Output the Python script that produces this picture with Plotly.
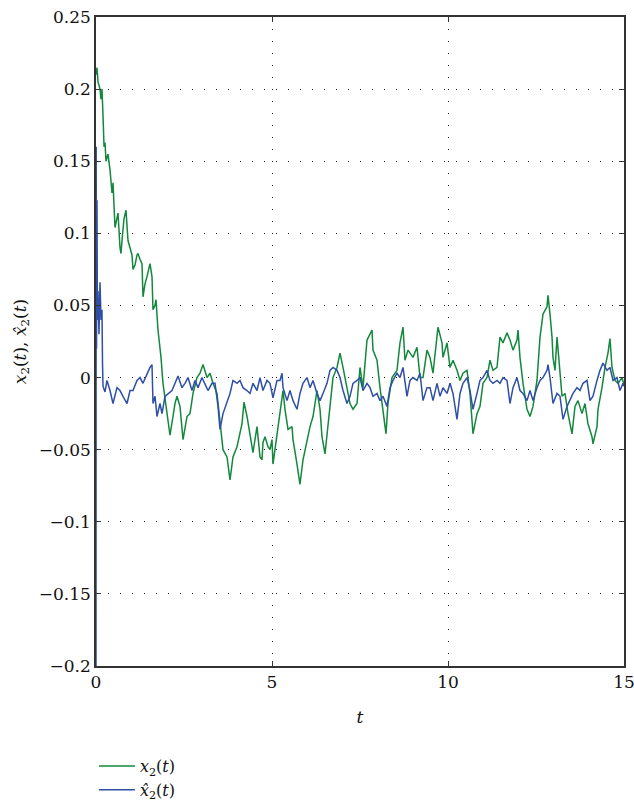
import plotly.graph_objects as go

# ---- data ----
t_green = [0, 0.028, 0.057, 0.114, 0.142, 0.170, 0.199, 0.228, 0.256, 0.284, 0.341, 0.398, 0.455, 0.483,
           0.540, 0.597, 0.625, 0.682, 0.710, 0.739, 0.795, 0.852, 0.909, 0.966, 1.023, 1.051, 1.108, 1.165,
           1.193, 1.25, 1.307, 1.335, 1.392, 1.449, 1.534, 1.591, 1.619, 1.676, 1.705, 1.761, 1.847, 1.903,
           1.932, 2.017, 2.102, 2.1875, 2.244, 2.301, 2.386, 2.472, 2.528, 2.585, 2.670, 2.756, 2.869, 2.955,
           3.040, 3.153, 3.239, 3.324, 3.4375, 3.523, 3.580, 3.608, 3.722, 3.807, 3.892, 4.006, 4.148, 4.205,
           4.290, 4.375, 4.460, 4.574, 4.659, 4.716, 4.744, 4.801, 4.886, 4.943, 5.0, 5.028, 5.142, 5.227,
           5.3125, 5.369, 5.455, 5.568, 5.597, 5.710, 5.795, 5.881, 5.994, 6.080, 6.165, 6.278, 6.364, 6.420,
           6.506, 6.5625, 6.648, 6.733, 6.847, 6.932, 7.017, 7.131, 7.216, 7.301, 7.415, 7.5, 7.585, 7.699,
           7.841, 7.869, 7.983, 8.068, 8.153, 8.239, 8.295, 8.409, 8.551, 8.636, 8.722, 8.778, 8.864, 9.006,
           9.119, 9.205, 9.290, 9.403, 9.489, 9.574, 9.716, 9.830, 9.858, 9.972, 10.057, 10.142, 10.256,
           10.341, 10.426, 10.540, 10.625, 10.710, 10.824, 10.909, 10.994, 11.108, 11.193, 11.278, 11.392,
           11.477, 11.562, 11.676, 11.761, 11.847, 11.960, 11.989, 12.045, 12.131, 12.244, 12.330, 12.415,
           12.528, 12.614, 12.699, 12.812, 12.841, 12.898, 12.955, 12.983, 13.040, 13.097, 13.182, 13.239,
           13.324, 13.409, 13.523, 13.608, 13.693, 13.807, 13.892, 13.977, 14.091, 14.119, 14.233, 14.261,
           14.375, 14.460, 14.545, 14.602, 14.659, 14.744, 14.830, 14.943, 15.0]
x2 = [0.21, 0.215, 0.205, 0.2, 0.193, 0.2, 0.182, 0.16, 0.163, 0.15, 0.155, 0.144, 0.128, 0.135,
      0.104, 0.112, 0.114, 0.09, 0.086, 0.095, 0.11, 0.116, 0.095, 0.09, 0.085, 0.075, 0.078, 0.085,
      0.086, 0.082, 0.079, 0.056, 0.065, 0.07, 0.079, 0.07, 0.047, 0.05, 0.054, 0.033, 0.014, -0.004,
      -0.009, -0.027, -0.04, -0.027, -0.018, -0.013, -0.02, -0.043, -0.035, -0.027, -0.025, -0.011, 0.0, 0.003,
      0.009, 0.0, 0.003, -0.004, -0.011, -0.032, -0.048, -0.05, -0.055, -0.071, -0.055, -0.048, -0.032, -0.017,
      -0.027, -0.04, -0.052, -0.034, -0.055, -0.057, -0.045, -0.041, -0.048, -0.05, -0.043, -0.06, -0.039, -0.027,
      -0.009, -0.022, -0.036, -0.034, -0.043, -0.06, -0.074, -0.057, -0.043, -0.034, -0.027, -0.009, -0.022, -0.041,
      -0.053, -0.039, -0.016, 0.0, 0.007, 0.017, 0.007, -0.009, -0.018, -0.022, -0.018, 0.007, -0.007, 0.026,
      0.033, 0.019, 0.012, -0.007, -0.025, -0.039, -0.018, 0.0, 0.005, 0.024, 0.035, 0.012, 0.019, 0.014,
      0.021, 0.0, 0.0, 0.019, 0.014, 0.003, 0.035, 0.024, 0.014, 0.024, 0.007, 0.012, 0.005,
      -0.002, 0.003, 0.005, -0.011, -0.039, -0.025, -0.02, -0.004, 0.0, 0.012, 0.005, 0.007,
      0.028, 0.024, 0.031, 0.026, 0.019, 0.026, 0.033, 0.014, -0.004, -0.022, -0.027, -0.02,
      -0.002, 0.028, 0.044, 0.049, 0.057, 0.044, 0.028, 0.014, 0.005, 0.028, 0.005, -0.013,
      -0.011, -0.025, -0.039, -0.02, -0.016, -0.025, -0.018, -0.032, -0.041, -0.046, -0.034, -0.022,
      -0.007, 0.007, 0.017, 0.027, 0.007, -0.002, -0.004, 0.0, -0.005]

t_blue = [0, 0.005, 0.015, 0.028, 0.04, 0.057, 0.085, 0.114, 0.142, 0.170, 0.185, 0.199, 0.256, 0.3125,
          0.398, 0.483, 0.597, 0.682, 0.767, 0.881, 0.966, 1.051, 1.165, 1.25, 1.335, 1.449, 1.534, 1.591,
          1.619, 1.676, 1.733, 1.818, 1.875, 1.960, 2.045, 2.159, 2.244, 2.330, 2.443, 2.528, 2.614, 2.727,
          2.8125, 2.898, 3.011, 3.097, 3.182, 3.295, 3.381, 3.466, 3.523, 3.608, 3.722, 3.807, 3.892, 4.006,
          4.091, 4.176, 4.290, 4.375, 4.460, 4.574, 4.659, 4.744, 4.858, 4.943, 5.028, 5.142, 5.227, 5.284,
          5.3125, 5.426, 5.511, 5.597, 5.710, 5.795, 5.881, 5.994, 6.080, 6.165, 6.278, 6.364, 6.449, 6.5625,
          6.648, 6.733, 6.847, 6.932, 7.017, 7.131, 7.216, 7.301, 7.415, 7.5, 7.585, 7.699, 7.784, 7.869,
          7.983, 8.068, 8.153, 8.267, 8.352, 8.4375, 8.551, 8.636, 8.722, 8.835, 8.920, 9.006, 9.119, 9.205,
          9.290, 9.403, 9.489, 9.574, 9.688, 9.773, 9.858, 9.972, 10.057, 10.142, 10.256, 10.341, 10.426,
          10.540, 10.625, 10.710, 10.824, 10.909, 10.994, 11.108, 11.193, 11.278, 11.392, 11.477, 11.562,
          11.676, 11.761, 11.847, 11.960, 12.045, 12.131, 12.244, 12.330, 12.415, 12.528, 12.614, 12.699,
          12.812, 12.841, 12.898, 12.983, 13.097, 13.182, 13.267, 13.381, 13.466, 13.551, 13.665, 13.75,
          13.835, 13.949, 14.034, 14.119, 14.233, 14.318, 14.403, 14.517, 14.602, 14.688, 14.801, 14.886,
          14.972, 15.0]
x2_hat = [-0.2, 0.16, 0.02, 0.123, 0.04, 0.06, 0.03, 0.066, 0.04, 0.047, 0.01, -0.006, -0.01, -0.002,
          -0.009, -0.018, -0.007, -0.009, -0.013, -0.018, -0.009, -0.009, -0.002, 0.0, -0.004, 0.003, 0.007, 0.009,
          -0.018, -0.013, -0.027, -0.018, -0.025, -0.013, -0.011, -0.009, -0.004, 0.001, -0.007, -0.004, 0.0, -0.009,
          -0.002, -0.007, 0.0, -0.004, -0.009, -0.004, -0.004, -0.02, -0.036, -0.025, -0.016, -0.011, -0.002, -0.004,
          -0.002, -0.007, -0.009, -0.011, -0.004, -0.009, 0.0, -0.009, -0.002, -0.004, -0.014, -0.002, -0.002, 0.003,
          -0.007, -0.016, -0.009, -0.016, -0.022, -0.011, -0.004, 0.0, -0.007, -0.002, -0.011, -0.016, -0.011, -0.004,
          0.005, 0.007, 0.005, 0.0, -0.009, -0.018, -0.013, -0.004, -0.002, 0.0, -0.009, -0.004, -0.007, -0.013,
          -0.011, -0.016, -0.013, -0.02, -0.007, -0.002, 0.003, 0.0, 0.007, -0.013, -0.002, 0.0, -0.002, 0.003,
          -0.016, -0.007, -0.007, -0.016, -0.004, -0.013, -0.007, -0.011, -0.004, -0.011, -0.029, -0.011, -0.004,
          0.0, -0.009, -0.022, -0.011, -0.002, 0.0, 0.005, -0.002, -0.004, -0.002, -0.004, 0.0,
          -0.002, -0.018, -0.007, 0.0, -0.009, -0.011, -0.016, -0.009, -0.016, -0.007, -0.002, 0.0,
          0.005, 0.009, 0.0, -0.018, -0.011, -0.013, -0.029, -0.02, -0.016, -0.011, -0.007, -0.009,
          -0.004, -0.002, -0.016, -0.013, -0.002, 0.005, 0.01, 0.005, 0.007, -0.002, 0.0, -0.009,
          -0.004, -0.006]

x_ticks = [0, 5, 10, 15]
y_ticks = [-0.2, -0.15, -0.1, -0.05, 0, 0.05, 0.1, 0.15, 0.2, 0.25]
y_ticklabels = ["\u22120.2", "\u22120.15", "\u22120.1", "\u22120.05", "0", "0.05", "0.1", "0.15", "0.2", "0.25"]

GREEN = "#13883d"
BLUE = "#2f4fa6"
FONT = "DejaVu Serif"

fig = go.Figure()
fig.add_trace(go.Scatter(x=t_green, y=x2, mode="lines", line=dict(color=GREEN, width=1.5),
                         name="<i>x</i><sub>2</sub>(<i>t</i>)"))
fig.add_trace(go.Scatter(x=t_blue, y=x2_hat, mode="lines", line=dict(color=BLUE, width=1.5),
                         name="<i>x\u0302</i><sub>2</sub>(<i>t</i>)"))

axis_common = dict(showline=True, linecolor="#333333", linewidth=1.5, mirror="ticks",
                   ticks="inside", ticklen=5, tickwidth=1, tickcolor="#333333",
                   showgrid=True, gridcolor="#222222", gridwidth=1, griddash="1px,11px",
                   zeroline=False, automargin=False, ticklabeloverflow="allow",
                   tickfont=dict(family=FONT, size=17, color="#111111"))

fig.update_xaxes(range=[0, 15], tickvals=x_ticks, ticktext=[str(v) for v in x_ticks],
                 title=dict(text="<i>t</i>", font=dict(family=FONT, size=17, color="#111111"), standoff=20),
                 **axis_common)
fig.update_yaxes(range=[-0.2, 0.25], tickvals=y_ticks, ticktext=y_ticklabels,
                 title=dict(text="<i>x</i><sub>2</sub>(<i>t</i>), <i>x\u0302</i><sub>2</sub>(<i>t</i>)",
                            font=dict(family=FONT, size=17, color="#111111"), standoff=8),
                 **axis_common)

fig.update_layout(
    width=634, height=803,
    margin=dict(l=96, r=10, t=17, b=137, autoexpand=False),
    paper_bgcolor="white", plot_bgcolor="white",
    font=dict(family=FONT, size=16, color="#111111"),
    showlegend=True,
    legend=dict(x=-0.004, y=-0.128, xanchor="left", yanchor="top",
                font=dict(family=FONT, size=16, color="#111111"),
                bgcolor="rgba(0,0,0,0)", tracegroupgap=0, itemwidth=36),
)

fig.write_html("out.html")
